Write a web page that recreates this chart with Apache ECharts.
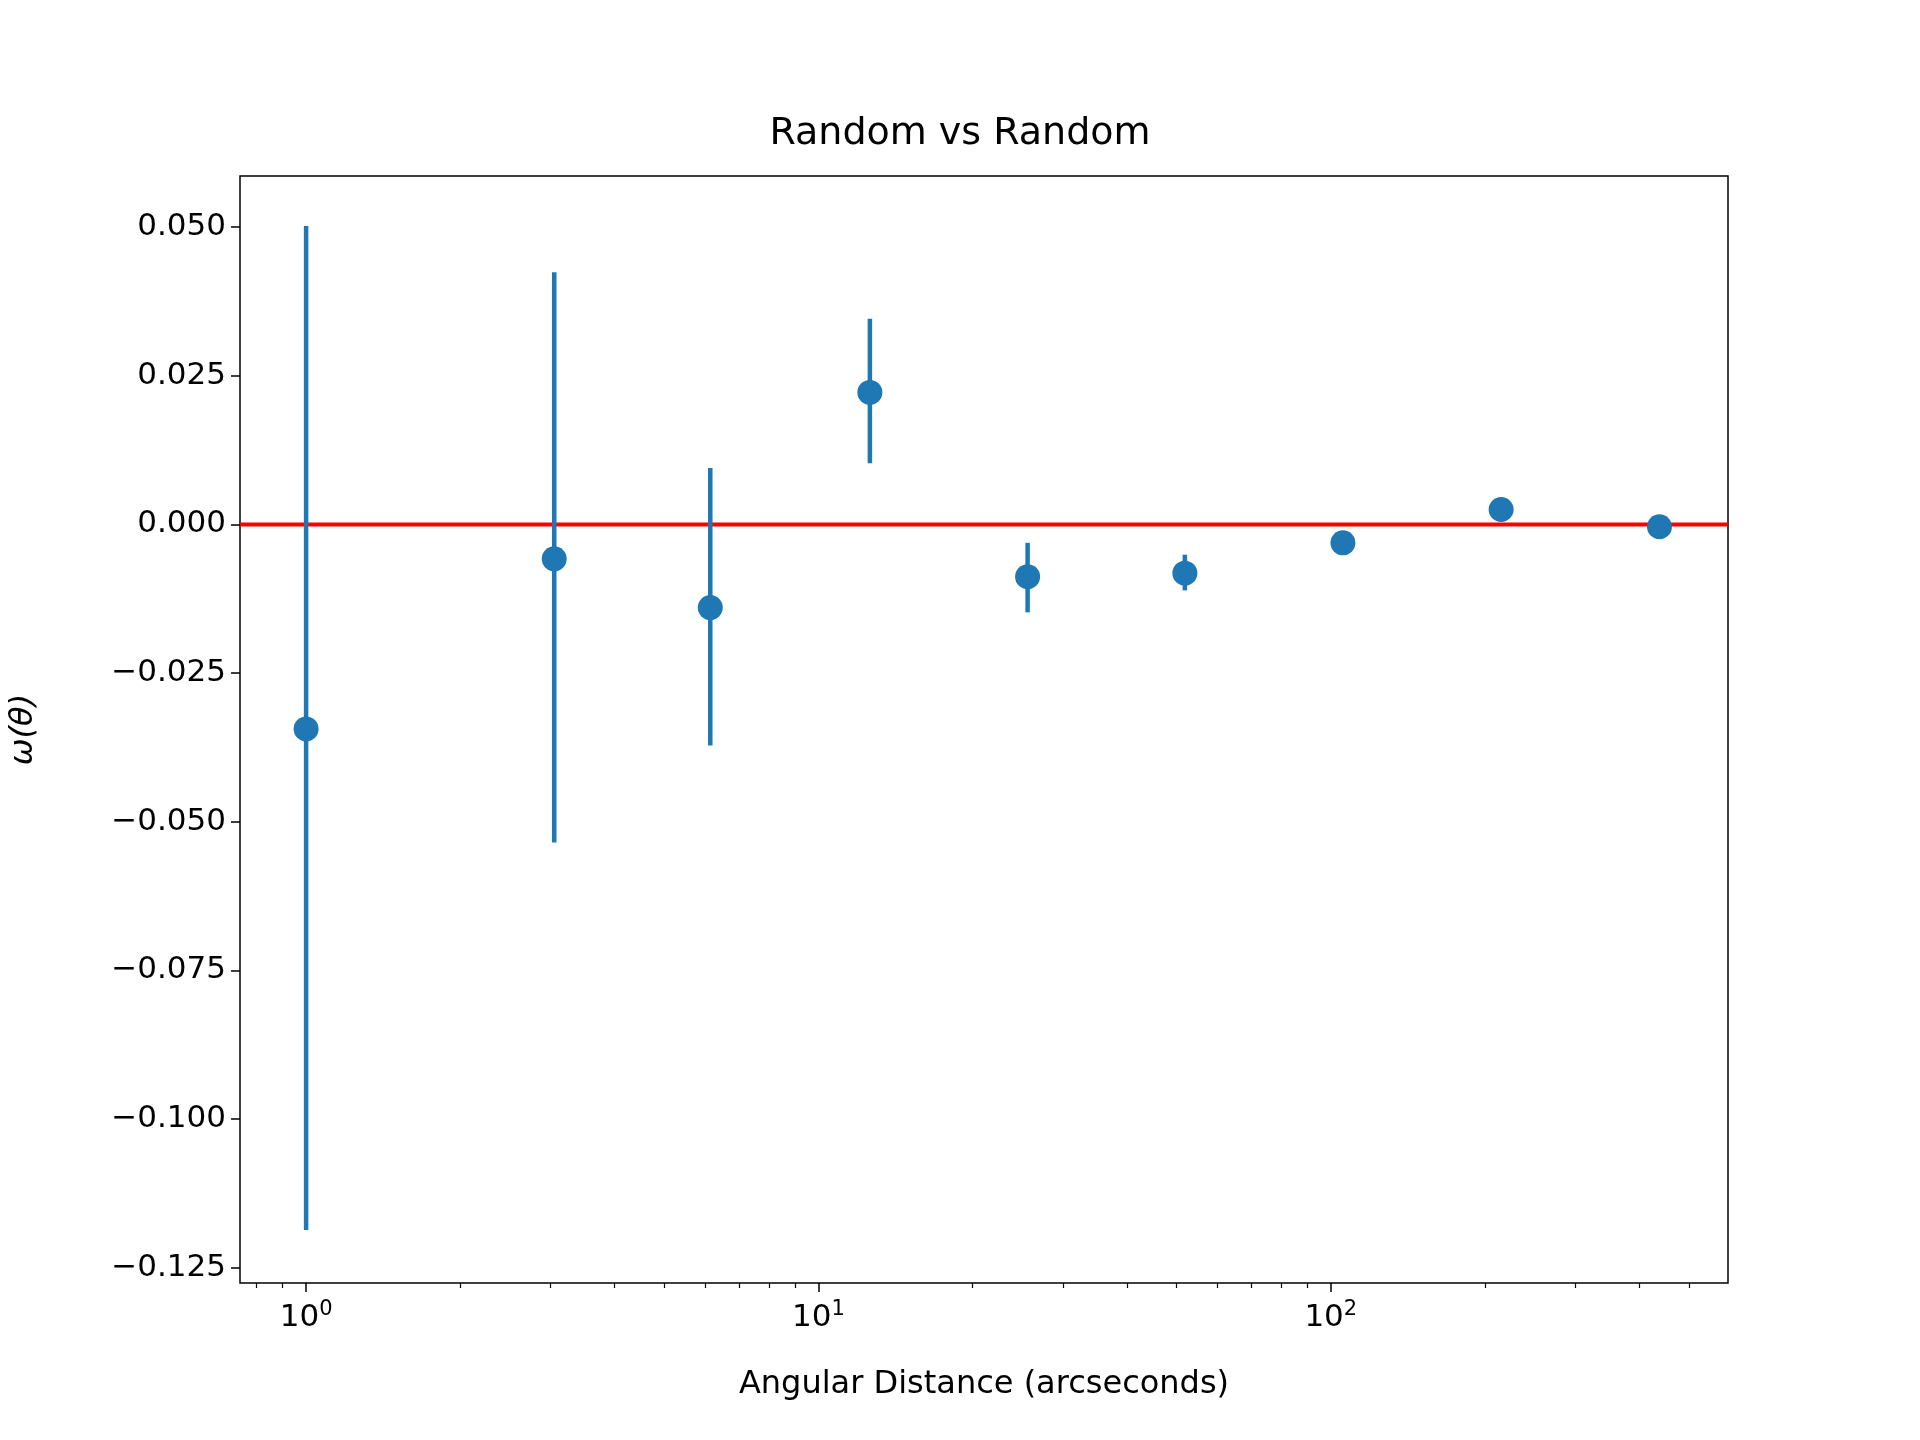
<!DOCTYPE html>
<html><head><meta charset="utf-8">
<script src="https://cdn.jsdelivr.net/npm/echarts@6/dist/echarts.min.js"></script>
<style>html,body{margin:0;background:#fff}#c{width:1920px;height:1440px}</style>
</head><body><div id="c"></div>
<script>
const xValues = [1.0, 3.05, 6.15, 12.6, 25.6, 51.9, 105.6, 215, 438];
const yValues = [-0.0344, -0.0058, -0.0140, 0.0222, -0.0088, -0.0082, -0.0031, 0.0025, -0.0004];
const yLow = [-0.1187, -0.0535, -0.0372, 0.0103, -0.0148, -0.0111, -0.0040, 0.0016, -0.0012];
const yHigh = [0.0502, 0.0424, 0.0095, 0.0346, -0.0031, -0.0051, -0.0022, 0.0034, 0.0004];
const yTicks = [-0.125, -0.1, -0.075, -0.05, -0.025, 0, 0.025, 0.05];
const xMajor = [0, 1, 2];
const xMinorRaw = [0.8,0.9,2,3,4,5,6,7,8,9,20,30,40,50,60,70,80,90,200,300,400,500];
const xMin = Math.log10(0.743), xMax = Math.log10(596);
const yMin = -0.1276, yMax = 0.0586;
const fmtY = v => (v < 0 ? '\u2212' : '') + Math.abs(v).toFixed(3);
const lx = xValues.map(v => Math.log10(v));
const font = 'DejaVu Sans';
const chart = echarts.init(document.getElementById('c'));
chart.setOption({
  animation: false,
  title: {text: 'Random vs Random', left: 'center', top: 110, textStyle: {fontFamily: font, fontSize: 38, fontWeight: 'normal', color: '#000'}},
  grid: {left: 237, right: 192, top: 176, bottom: 157, show: true, borderColor: '#000', borderWidth: 1.5, backgroundColor: 'transparent'},
  xAxis: [{
    type: 'value', min: xMin, max: xMax,
    name: 'Angular Distance (arcseconds)', nameLocation: 'middle', nameGap: 86,
    nameTextStyle: {fontFamily: font, fontSize: 32, color: '#000'},
    axisLine: {show: false, onZero: false}, splitLine: {show: false},
    axisTick: {customValues: xMajor, length: 9, lineStyle: {color: '#000', width: 1.5}},
    axisLabel: {customValues: xMajor, formatter: v => '10{s|' + v + '}', fontFamily: font, fontSize: 31, color: '#000', margin: 16,
      rich: {s: {fontFamily: font, fontSize: 21, verticalAlign: 'top', padding: [0,0,16,0], color: '#000'}}}
  }, {
    type: 'value', min: xMin, max: xMax, position: 'bottom', gridIndex: 0,
    axisLine: {show: false, onZero: false}, splitLine: {show: false}, axisLabel: {show: false},
    axisTick: {customValues: xMinorRaw.map(v => Math.log10(v)), length: 5, lineStyle: {color: '#000', width: 1.2}}
  }],
  yAxis: {
    type: 'value', min: yMin, max: yMax,
    name: '\u03c9(\u03b8)', nameLocation: 'middle', nameGap: 200, nameRotate: 90,
    nameTextStyle: {fontFamily: font, fontSize: 32, color: '#000', fontStyle: 'italic'},
    axisLine: {show: false, onZero: false}, splitLine: {show: false},
    axisTick: {customValues: yTicks, length: 9, lineStyle: {color: '#000', width: 1.5}},
    axisLabel: {customValues: yTicks, formatter: fmtY, fontFamily: font, fontSize: 31, color: '#000', margin: 14}
  },
  series: [{
    type: 'line', data: [[xMin, 0], [xMax, 0]], symbol: 'none', z: 1,
    lineStyle: {color: '#ff0000', width: 4}
  }, {
    type: 'custom', z: 2,
    data: lx.map((x, i) => [x, yLow[i], yHigh[i]]),
    renderItem: (p, api) => {
      const a = api.coord([api.value(0), api.value(1)]);
      const b = api.coord([api.value(0), api.value(2)]);
      return {type: 'line', shape: {x1: a[0], y1: a[1], x2: b[0], y2: b[1]}, style: {stroke: '#1f77b4', lineWidth: 4.5}};
    }
  }, {
    type: 'scatter', z: 3, symbolSize: 25,
    itemStyle: {color: '#1f77b4', opacity: 1},
    data: lx.map((x, i) => [x, yValues[i]])
  }]
});
</script></body></html>
